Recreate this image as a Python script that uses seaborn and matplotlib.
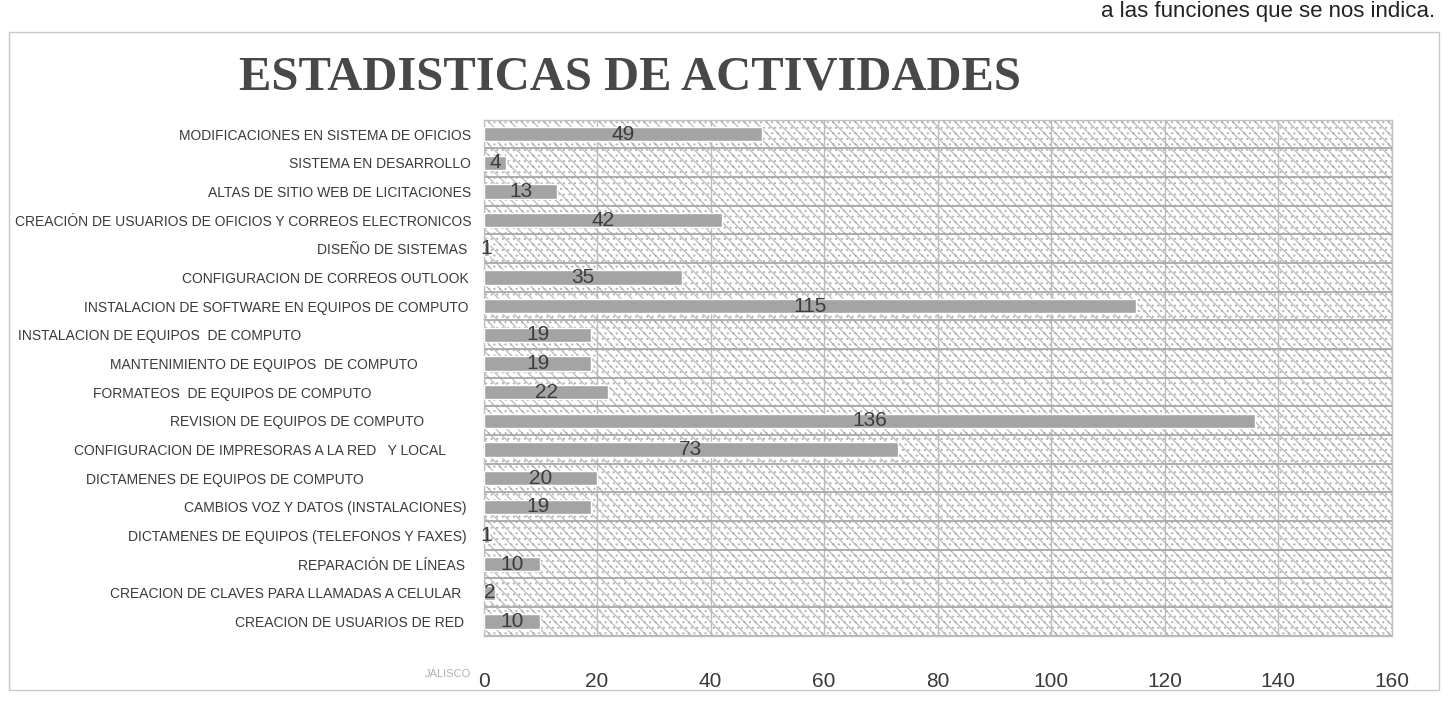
import matplotlib
matplotlib.use("Agg")
import matplotlib.pyplot as plt
import matplotlib.transforms as mtransforms
from matplotlib.patches import Rectangle
import seaborn as sns
import pandas as pd


# Data (top to bottom as in the chart)
actividades = [
    "MODIFICACIONES EN SISTEMA DE OFICIOS",
    "SISTEMA EN DESARROLLO",
    "ALTAS DE SITIO WEB DE LICITACIONES",
    "CREACIÓN DE USUARIOS DE OFICIOS Y CORREOS ELECTRONICOS",
    "DISEÑO DE SISTEMAS",
    "CONFIGURACION DE CORREOS OUTLOOK",
    "INSTALACION DE SOFTWARE EN EQUIPOS DE COMPUTO",
    "INSTALACION DE EQUIPOS  DE COMPUTO",
    "MANTENIMIENTO DE EQUIPOS  DE COMPUTO",
    "FORMATEOS  DE EQUIPOS DE COMPUTO",
    "REVISION DE EQUIPOS DE COMPUTO",
    "CONFIGURACION DE IMPRESORAS A LA RED   Y LOCAL",
    "DICTAMENES DE EQUIPOS DE COMPUTO",
    "CAMBIOS VOZ Y DATOS (INSTALACIONES)",
    "DICTAMENES DE EQUIPOS (TELEFONOS Y FAXES)",
    "REPARACIÓN DE LÍNEAS",
    "CREACION DE CLAVES PARA LLAMADAS A CELULAR",
    "CREACION DE USUARIOS DE RED",
]
cantidades = [49, 4, 13, 42, 1, 35, 115, 19, 19, 22, 136, 73, 20, 19, 1, 10, 2, 10]
x_ticks = [0, 20, 40, 60, 80, 100, 120, 140, 160]

# extra left shift (pixels) of some category labels, as in the scan
label_shift_px = [0, 0, 0, 0, 4, 2, 3, 170, 53, 100, 47, 25, 107, 5, 5, 6, 10, 7]

df = pd.DataFrame({"actividad": actividades, "cantidad": cantidades})

sns.set_style("white")
plt.rcParams["font.family"] = ["Liberation Sans Narrow", "Liberation Sans", "DejaVu Sans"]
plt.rcParams["hatch.linewidth"] = 0.8
plt.rcParams["hatch.color"] = "#b4b4b4"

fig = plt.figure(figsize=(14.48, 7.04), dpi=100)
ax = fig.add_axes([0.334, 0.097, 0.627, 0.733])

# patterned plot area
ax.add_patch(Rectangle((0, 0), 1, 1, transform=ax.transAxes, facecolor="white",
                       edgecolor="#b4b4b4", hatch="\\\\\\...", lw=0, zorder=0))

sns.barplot(data=df, x="cantidad", y="actividad", orient="h", color="#a4a4a4",
            width=0.5, saturation=1, ax=ax, zorder=3)

# value labels centred in each bar
for p, v in zip(ax.patches[1:], cantidades):
    ax.text(p.get_x() + p.get_width() / 2, p.get_y() + p.get_height() / 2, str(v),
            ha="center", va="center", fontsize=15, color="#3c3c3c", zorder=4)

ax.set_xlim(0, 160)
ax.set_xticks(x_ticks)
ax.set_ylim(len(actividades) - 0.5, -0.5)

# grid: vertical every 20, horizontal between categories
ax.set_yticks([i + 0.5 for i in range(-1, len(actividades))], minor=True)
ax.grid(axis="x", which="major", color="#bcbcbc", lw=1, zorder=1)
ax.grid(axis="y", which="minor", color="#a8a8a8", lw=1.3, zorder=1)
ax.set_axisbelow(True)

ax.set_xlabel("")
ax.set_ylabel("")
ax.tick_params(axis="x", length=0, pad=26, labelsize=15, labelcolor="#3a3a3a")
ax.tick_params(axis="y", which="both", length=0, pad=9, labelsize=10, labelcolor="#3a3a3a")

for lab, shift in zip(ax.get_yticklabels(), label_shift_px):
    lab.set_transform(lab.get_transform() +
                      mtransforms.ScaledTranslation(-shift / 100, 0, fig.dpi_scale_trans))

for s in ax.spines.values():
    s.set_color("#c0c0c0")
    s.set_linewidth(1)

# title
fig.text(0.435, 0.89, "ESTADISTICAS DE ACTIVIDADES", ha="center", va="center",
         fontsize=35, fontweight="bold", color="#484848", family="Liberation Serif")

# leftover text of the scanned page
fig.text(0.991, 0.999, "a las funciones que se nos indica.", ha="right", va="top",
         fontsize=16, color="#222222", family="Liberation Sans")
fig.text(0.325, 0.043, "JALISCO", ha="right", va="center", fontsize=8,
         color="#b0b0b0", family="Liberation Sans")

# outer chart frame
fig.add_artist(Rectangle((0.006, 0.02), 0.988, 0.935, transform=fig.transFigure,
                         fill=False, edgecolor="#c8c8c8", lw=1))

fig.savefig("out.png", dpi=100)
